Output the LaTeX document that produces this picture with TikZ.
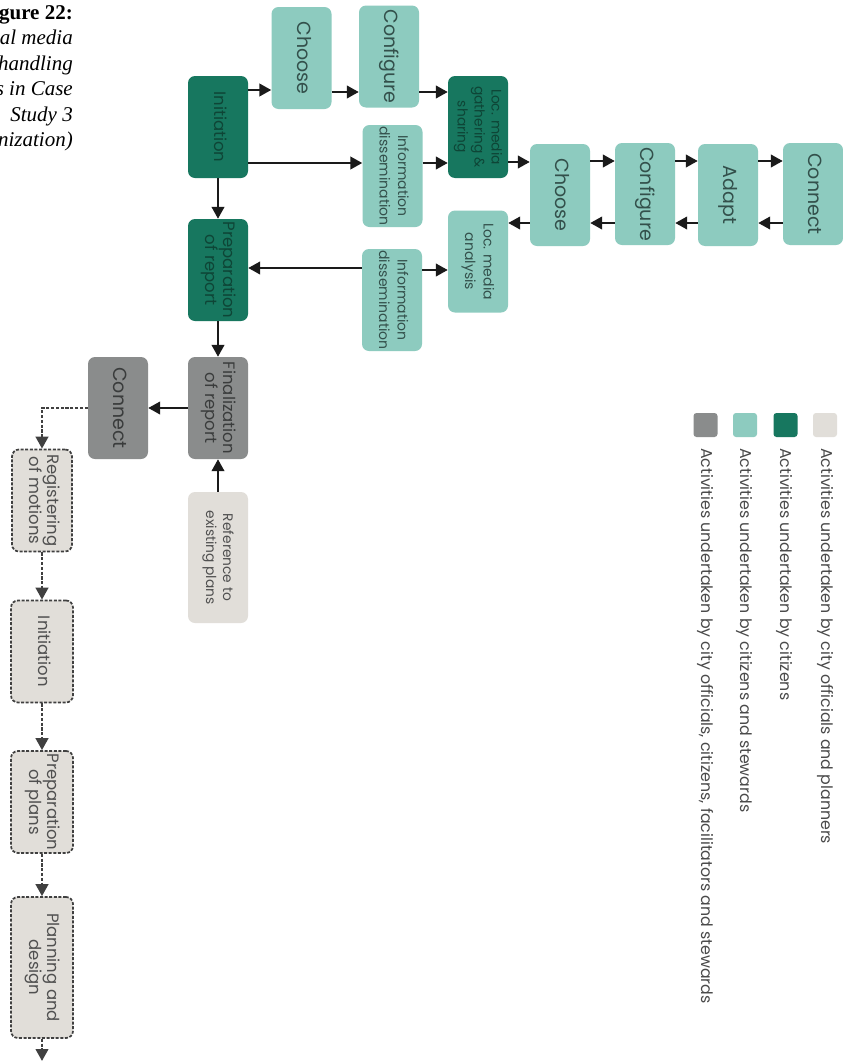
\documentclass[tikz,border=0pt]{standalone}
\usepackage{fontspec}
\setmainfont{Poppins}
\newfontfamily\capfont{Liberation Serif}
\usetikzlibrary{arrows.meta}

\definecolor{citizendark}{HTML}{17775F}
\definecolor{citizentext}{HTML}{0E4536}
\definecolor{stewardteal}{HTML}{8DCBBF}
\definecolor{stewardtext}{HTML}{33504B}
\definecolor{jointgrey}{HTML}{8A8C8C}
\definecolor{jointtext}{HTML}{3A3C3C}
\definecolor{plannerbeige}{HTML}{E1DED9}
\definecolor{plannertext}{HTML}{505050}
\definecolor{dashgrey}{HTML}{404040}
\definecolor{arrowblack}{HTML}{1A1A1A}
\definecolor{legendtext}{HTML}{4A4A4A}

% vertical two- or three-line label, read from top to bottom
\newcommand{\vlabel}[1]{\rotatebox{-90}{\begin{tabular}{@{}c@{}}#1\end{tabular}}}

\tikzset{
  box/.style={rectangle, rounded corners=7pt, inner sep=0pt,
              minimum width=60pt, minimum height=102pt},
  citizen/.style={box, fill=citizendark, text=citizentext},
  steward/.style={box, fill=stewardteal, text=stewardtext},
  joint/.style={box, fill=jointgrey, text=jointtext},
  planner/.style={box, fill=plannerbeige, text=plannertext},
  plannerdash/.style={planner, draw=dashgrey, line width=1.7pt,
              dash pattern=on 3pt off 1.6pt},
  big/.style={font=\fontsize{19}{21}\selectfont},
  mid/.style={font=\fontsize{16.5}{18}\selectfont},
  small/.style={font=\fontsize{14}{18.5}\selectfont},
  tiny/.style={font=\fontsize{13.8}{17}\selectfont},
  arr/.style={draw=arrowblack, line width=2.5pt,
              -{Triangle[length=12pt,width=12.5pt]}},
  darr/.style={arr, draw=dashgrey, dash pattern=on 3.2pt off 1.6pt},
  legendsq/.style={rectangle, rounded corners=3pt, minimum size=24pt, inner sep=0pt},
  legendtxt/.style={rotate=-90, anchor=west, inner sep=0pt, text=legendtext,
              font=\fontsize{15.8}{18}\selectfont},
  captionbold/.style={anchor=base east, inner sep=0pt, text=black,
              font=\capfont\bfseries\fontsize{21}{25}\selectfont},
  captionit/.style={anchor=base east, inner sep=0pt, text=black,
              font=\capfont\itshape\fontsize{21}{25}\selectfont},
}

\begin{document}
\begin{tikzpicture}[x=1pt, y=-1pt]
\useasboundingbox (0,0) rectangle (843,1063);
\fill[white] (0,0) rectangle (843,1063);
\clip (0,0) rectangle (843,1063);

% caption (its left part lies beyond the page edge)
\node[captionbold] (cap1) at (73,19) {gure 22:};
\node[captionit] (cap2) at (73,44.5) {al media};
\node[captionit] (cap3) at (73,70) {handling};
\node[captionit] (cap4) at (73,95.5) {s in Case};
\node[captionit] (cap5) at (73,121) {Study 3};
\node[captionit] (cap6) at (73,146.5) {nization)};

% citizen-led branch
\node[citizen, mid] (init) at (218,127) {\vlabel{Initiation}};
\node[steward, big] (choosea) at (301.5,58) {\vlabel{Choose}};
\node[steward, big] (configa) at (389,56.5) {\vlabel{Configure}};
\node[citizen, tiny] (gather) at (478,127) {\vlabel{Loc. media\\gathering \&\\sharing}};
\node[steward, small] (infoa) at (392.5,176) {\vlabel{Information\\dissemination}};
\node[steward, big] (chooseb) at (560,195) {\vlabel{Choose}};
\node[steward, big] (configb) at (645,194) {\vlabel{Configure}};
\node[steward, big] (adapt) at (728,195) {\vlabel{Adapt}};
\node[steward, big] (connecta) at (813,194) {\vlabel{Connect}};
\node[steward, small] (analysis) at (478,261.5) {\vlabel{Loc. media\\analysis}};
\node[steward, small] (infob) at (392,300) {\vlabel{Information\\dissemination}};
\node[citizen, mid] (prep) at (218,270) {\vlabel{Preparation\\of report}};

% city-led branch
\node[joint, mid] (final) at (218,408) {\vlabel{Finalization\\of report}};
\node[joint, big] (connectb) at (118,408) {\vlabel{Connect}};
\node[planner, tiny, minimum height=131pt] (ref) at (218,557.5) {\vlabel{Reference to\\existing plans}};
\node[plannerdash, mid] (reg) at (42,500.5) {\vlabel{Registering\\of motions}};
\node[plannerdash, mid, minimum width=62pt] (initb) at (42,651.5) {\vlabel{Initiation}};
\node[plannerdash, mid, minimum width=62pt] (prepplans) at (42,802) {\vlabel{Preparation\\of plans}};
\node[plannerdash, mid, minimum width=62pt, minimum height=141pt] (plan) at (42,967.5) {\vlabel{Planning and\\design}};
\coordinate (onward) at (42,1061);

% connectors
\draw[arr] (init.east |- 0,90) -- (choosea.west |- 0,90);
\draw[arr] (choosea.east |- 0,92) -- (configa.west |- 0,92);
\draw[arr] (configa.east |- 0,92) -- (gather.west |- 0,92);
\draw[arr] (init.east |- 0,163) -- (infoa.west |- 0,163);
\draw[arr] (infoa.east |- 0,163) -- (gather.west |- 0,163);
\draw[arr] (gather.east |- 0,162) -- (chooseb.west |- 0,162);
\draw[arr] (chooseb.east |- 0,161) -- (configb.west |- 0,161);
\draw[arr] (configb.east |- 0,161) -- (adapt.west |- 0,161);
\draw[arr] (adapt.east |- 0,161) -- (connecta.west |- 0,161);
\draw[arr] (connecta.west |- 0,223) -- (adapt.east |- 0,223);
\draw[arr] (adapt.west |- 0,223) -- (configb.east |- 0,223);
\draw[arr] (configb.west |- 0,223) -- (chooseb.east |- 0,223);
\draw[arr] (chooseb.west |- 0,223) -- (analysis.east |- 0,223);
\draw[arr] (infob.east |- 0,270) -- (analysis.west |- 0,270);
\draw[arr] (infob.west |- 0,268) -- (prep.east |- 0,268);
\draw[arr] (init.south) -- (prep.north);
\draw[arr] (prep.south) -- (final.north);
\draw[arr] (ref.north) -- (final.south);
\draw[arr] (final.west) -- (connectb.east);
\draw[darr] (connectb.west) -| (reg.north);
\draw[darr] (reg.south) -- (initb.north);
\draw[darr] (initb.south) -- (prepplans.north);
\draw[darr] (prepplans.south) -- (plan.north);
\draw[darr] (plan.south) -- (onward);

% legend
\node[legendsq, fill=plannerbeige] (lgplanner) at (825,425) {};
\node[legendsq, fill=citizendark] (lgcitizen) at (785.5,425) {};
\node[legendsq, fill=stewardteal] (lgsteward) at (745,425) {};
\node[legendsq, fill=jointgrey] (lgjoint) at (705.5,425) {};
\node[legendtxt] (lgplannertxt) at (825,448) {Activities undertaken by city officials and planners};
\node[legendtxt] (lgcitizentxt) at (784,448) {Activities undertaken by citizens};
\node[legendtxt] (lgstewardtxt) at (744,448) {Activities undertaken by citizens and stewards};
\node[legendtxt] (lgjointtxt) at (705,448) {Activities undertaken by city officials, citizens, facilitators and stewards};
\end{tikzpicture}
\end{document}
